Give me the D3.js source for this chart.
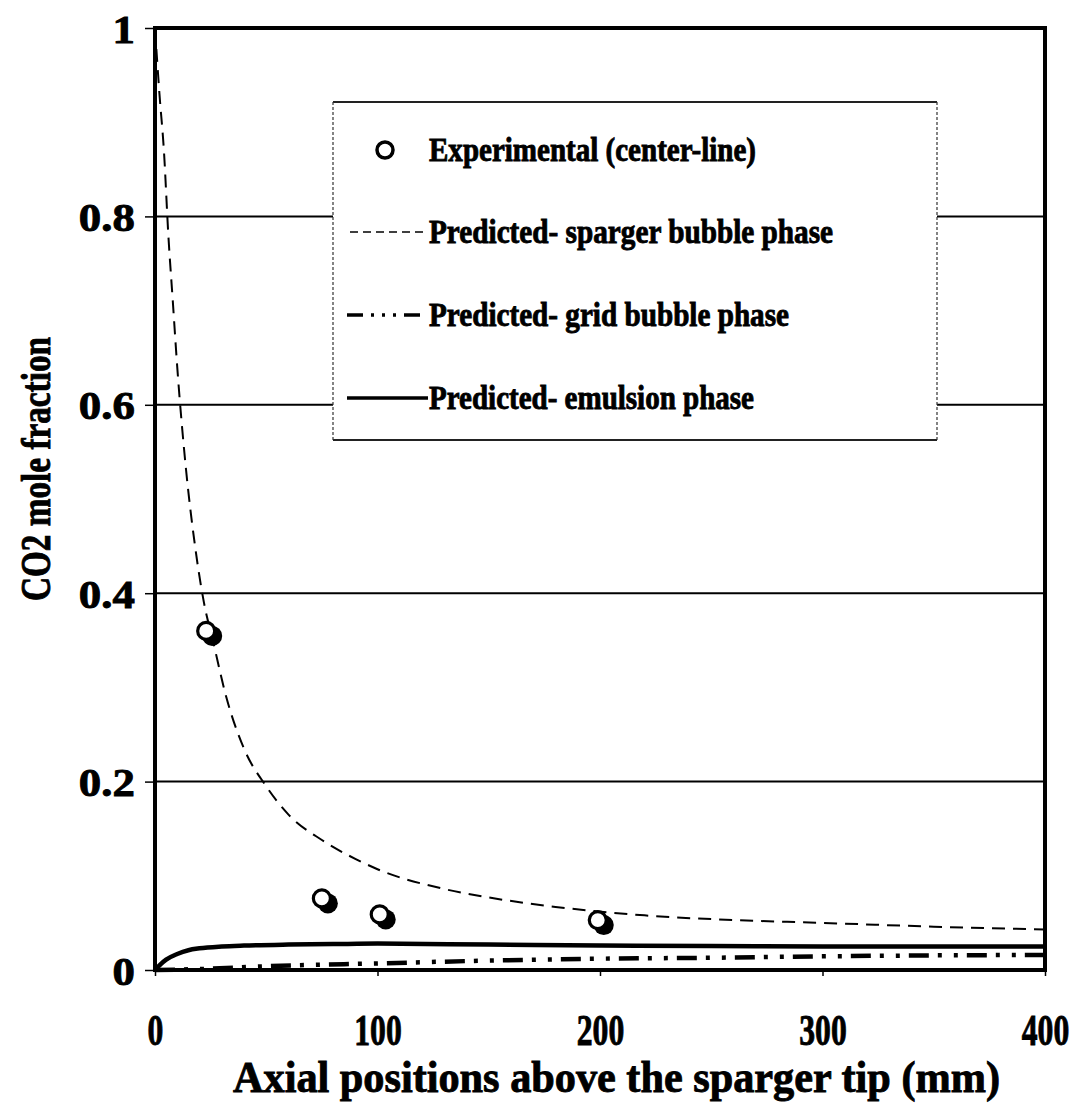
<!DOCTYPE html>
<html>
<head>
<meta charset="utf-8">
<script src="https://cdn.jsdelivr.net/npm/d3@7"></script>
<style>
  html, body { margin: 0; padding: 0; background: #fff; }
  svg { display: block; }
  text { font-family: "Liberation Serif", "Times New Roman", serif; font-weight: bold; fill: #000; stroke: #000; stroke-width: 0.9px; }
</style>
</head>
<body>
<svg id="chart" width="1080" height="1103"></svg>
<script>
// Axial position (mm) and CO2 mole fraction
const xTicks = [0, 100, 200, 300, 400];
const yTicks = [0, 0.2, 0.4, 0.6, 0.8, 1];
const yTickLabels = ["0", "0.2", "0.4", "0.6", "0.8", "1"];

// Experimental (center-line)
const expX = [23, 75, 101, 199];
const expY = [0.36, 0.076, 0.059, 0.053];

// Predicted - sparger bubble phase
const spargerX = [0, 2, 4, 6, 8, 10, 14, 18, 22, 26, 32, 40, 50, 60, 75, 90, 100, 130, 150, 180, 220, 260, 300, 350, 400];
const spargerY = [1.0, 0.93, 0.87, 0.78, 0.71, 0.64, 0.53, 0.45, 0.39, 0.35, 0.29, 0.235, 0.195, 0.165, 0.138, 0.118, 0.107, 0.086, 0.077, 0.067, 0.058, 0.053, 0.050, 0.046, 0.043];

// Predicted - grid bubble phase
const gridX = [0, 20, 50, 100, 150, 200, 250, 300, 350, 400];
const gridY = [0, 0.001, 0.004, 0.007, 0.010, 0.012, 0.013, 0.0145, 0.0155, 0.016];

// Predicted - emulsion phase
const emulsionX = [0, 2, 5, 10, 15, 20, 30, 40, 60, 80, 100, 150, 200, 250, 300, 350, 400];
const emulsionY = [0, 0.005, 0.011, 0.017, 0.021, 0.023, 0.025, 0.026, 0.027, 0.0275, 0.028, 0.027, 0.026, 0.0255, 0.025, 0.025, 0.025];

const legendLabels = [
  "Experimental (center-line)",
  "Predicted- sparger bubble phase",
  "Predicted- grid bubble phase",
  "Predicted- emulsion phase"
];

const svg = d3.select("#chart");
const plotLeft = 155, plotRight = 1045, plotTop = 28, plotBottom = 970;

const x = d3.scaleLinear().domain([0, 400]).range([plotLeft, plotRight]);
const y = d3.scaleLinear().domain([0, 1]).range([plotBottom, plotTop]);

// horizontal gridlines
svg.append("g")
  .selectAll("line")
  .data(yTicks.filter(v => v > 0 && v < 1))
  .join("line")
  .attr("x1", plotLeft).attr("x2", plotRight)
  .attr("y1", d => y(d)).attr("y2", d => y(d))
  .attr("stroke", "#000").attr("stroke-width", 2);

// y axis ticks and labels
const yAxis = svg.append("g").attr("transform", `translate(${plotLeft},0)`)
  .call(d3.axisLeft(y).tickValues(yTicks).tickSize(10).tickFormat((d, i) => yTickLabels[i]));
yAxis.select(".domain").remove();
yAxis.selectAll(".tick line").attr("stroke", "#000").attr("stroke-width", 1.5);
yAxis.selectAll(".tick text")
  .attr("x", -18)
  .attr("dy", "0.35em")
  .style("font-size", "40px")
  .style("font-family", "'Liberation Serif', serif")
  .style("font-weight", "bold")
  .attr("transform", "scale(1.12,1)")
  .attr("text-anchor", "end");

// x axis ticks and labels
const xAxis = svg.append("g").attr("transform", `translate(0,${plotBottom})`)
  .call(d3.axisBottom(x).tickValues(xTicks).tickSize(6).tickFormat(d3.format("d")));
xAxis.select(".domain").remove();
xAxis.selectAll(".tick line").attr("stroke", "#000").attr("stroke-width", 1.5);
xAxis.selectAll(".tick text").each(function () {
  d3.select(this).attr("y", 0).attr("dy", null)
   .attr("transform", "translate(0,75) scale(0.72,1)")
   .style("font-size", "44px")
   .style("font-family", "'Liberation Serif', serif")
   .style("font-weight", "bold");
});

// plot frame
svg.append("rect")
  .attr("x", plotLeft).attr("y", plotTop)
  .attr("width", plotRight - plotLeft).attr("height", plotBottom - plotTop)
  .attr("fill", "none").attr("stroke", "#000").attr("stroke-width", 4);

const line = d3.line().x(d => x(d[0])).y(d => y(d[1])).curve(d3.curveMonotoneX);

// sparger bubble phase
svg.append("path")
  .datum(d3.zip(spargerX, spargerY))
  .attr("d", line)
  .attr("fill", "none").attr("stroke", "#000")
  .attr("stroke-width", 2).attr("stroke-dasharray", "13,8");

// grid bubble phase
svg.append("path")
  .datum(d3.zip(gridX, gridY))
  .attr("d", line)
  .attr("fill", "none").attr("stroke", "#000")
  .attr("stroke-width", 4.5).attr("stroke-dasharray", "20,9,4,12,4,9");

// emulsion phase
svg.append("path")
  .datum(d3.zip(emulsionX, emulsionY))
  .attr("d", line)
  .attr("fill", "none").attr("stroke", "#000")
  .attr("stroke-width", 4.5);

// experimental points: dark shadow + open circle
const pts = svg.append("g").selectAll("g").data(d3.zip(expX, expY)).join("g")
  .attr("transform", d => `translate(${x(d[0])},${y(d[1])})`);
pts.append("circle").attr("cx", 6).attr("cy", 5).attr("r", 10).attr("fill", "#000");
pts.append("circle").attr("r", 8.5).attr("fill", "#fff").attr("stroke", "#000").attr("stroke-width", 3.2);

// legend
const lg = svg.append("g");
lg.append("rect")
  .attr("x", 333).attr("y", 102).attr("width", 604).attr("height", 338)
  .attr("fill", "#fff").attr("stroke", "none");
lg.append("line").attr("x1", 333).attr("x2", 937).attr("y1", 102).attr("y2", 102)
  .attr("stroke", "#222").attr("stroke-width", 1.8);
lg.append("line").attr("x1", 333).attr("x2", 937).attr("y1", 440).attr("y2", 440)
  .attr("stroke", "#222").attr("stroke-width", 1.8);
lg.append("line").attr("x1", 333).attr("x2", 333).attr("y1", 102).attr("y2", 440)
  .attr("stroke", "#333").attr("stroke-width", 1.2).attr("stroke-dasharray", "3,2");
lg.append("line").attr("x1", 937).attr("x2", 937).attr("y1", 102).attr("y2", 440)
  .attr("stroke", "#333").attr("stroke-width", 1.2).attr("stroke-dasharray", "3,2");

lg.append("circle").attr("cx", 385).attr("cy", 150).attr("r", 8)
  .attr("fill", "#fff").attr("stroke", "#000").attr("stroke-width", 3.5);
lg.append("line").attr("x1", 350).attr("x2", 428).attr("y1", 232).attr("y2", 232)
  .attr("stroke", "#000").attr("stroke-width", 1.5).attr("stroke-dasharray", "8,5");
lg.append("line").attr("x1", 347).attr("x2", 420).attr("y1", 315).attr("y2", 315)
  .attr("stroke", "#000").attr("stroke-width", 3.5).attr("stroke-dasharray", "16,8,3,8,3,8,3,8");
lg.append("line").attr("x1", 347).attr("x2", 428).attr("y1", 398).attr("y2", 398)
  .attr("stroke", "#000").attr("stroke-width", 3.5);

const legendBaselines = [161, 243, 326, 409];
const legendWidths = [327, 404, 360, 325];
lg.selectAll("text.lt").data(legendLabels).join("text")
  .attr("class", "lt")
  .attr("x", 429)
  .attr("y", (d, i) => legendBaselines[i])
  .attr("textLength", (d, i) => legendWidths[i])
  .attr("lengthAdjust", "spacingAndGlyphs")
  .style("font-size", "34px")
  .text(d => d);

// axis titles
svg.append("text")
  .attr("x", 233).attr("y", 1092)
  .attr("textLength", 767).attr("lengthAdjust", "spacingAndGlyphs")
  .style("font-size", "44px")
  .text("Axial positions above the sparger tip (mm)");

svg.append("text")
  .attr("transform", "translate(50,601) rotate(-90)")
  .attr("x", 0).attr("y", 0)
  .attr("textLength", 264).attr("lengthAdjust", "spacingAndGlyphs")
  .style("font-size", "42px")
  .text("CO2 mole fraction");
</script>
</body>
</html>
